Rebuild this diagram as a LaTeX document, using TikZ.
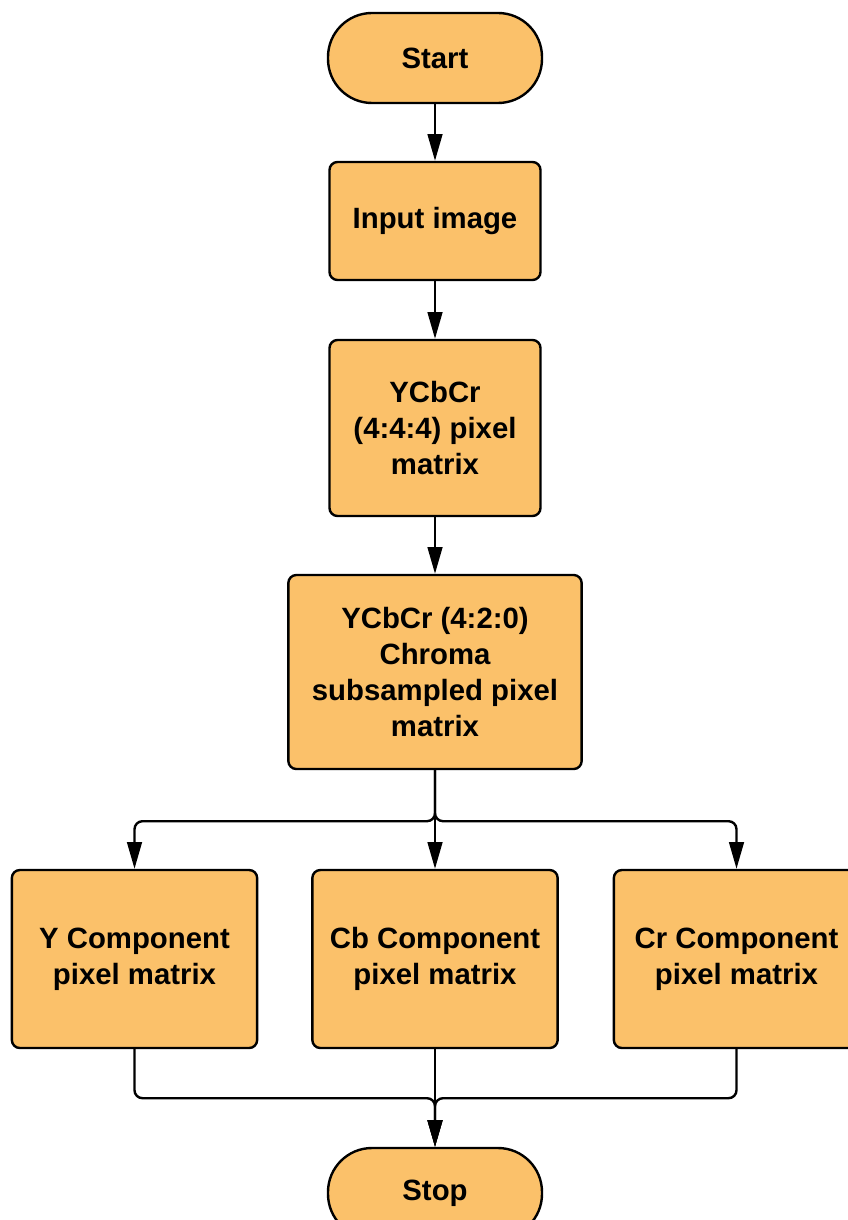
\documentclass[tikz,border=0pt]{standalone}
\usepackage{fontspec}
\setmainfont{Liberation Sans}
\usetikzlibrary{arrows.meta}
\definecolor{boxfill}{RGB}{251,193,106}
\begin{document}
\begin{tikzpicture}[x=0.75pt,y=-0.75pt,
  box/.style={draw=black, line width=1.8pt, fill=boxfill, rounded corners=6pt, align=center,
    font=\fontsize{22}{27}\selectfont\bfseries, inner sep=0pt},
  term/.style={box, rounded corners=33pt, minimum width=160.5pt, minimum height=67.5pt},
  conn/.style={line width=1.8pt, rounded corners=6pt, -{Triangle[length=20pt,width=11pt]}}]
\clip (0,0) rectangle (848,1220);
\node[term] (start) at (435,58) {Start};
\node[box, minimum width=158.25pt, minimum height=88.5pt] (input) at (435,221) {Input image};
\node[box, minimum width=158.25pt, minimum height=132pt] (y444) at (435,428) {YCbCr\\(4:4:4) pixel\\matrix};
\node[box, minimum width=220pt, minimum height=145.5pt] (y420) at (435,672) {YCbCr (4:2:0)\\Chroma\\subsampled pixel\\matrix};
\node[box, minimum width=184pt, minimum height=133.5pt] (ycomp) at (134.5,959) {Y Component\\pixel matrix};
\node[box, minimum width=184pt, minimum height=133.5pt] (cbcomp) at (435,959) {Cb Component\\pixel matrix};
\node[box, minimum width=184pt, minimum height=133.5pt] (crcomp) at (736.5,959) {Cr Component\\pixel matrix};
\node[term] (stop) at (435,1193) {Stop};
\draw[conn] (start) -- (input);
\draw[conn] (input) -- (y444);
\draw[conn] (y444) -- (y420);
\draw[conn] (y420.south) -- ++(0,51) -| (ycomp.north);
\draw[conn] (y420.south) -- (cbcomp.north);
\draw[conn] (y420.south) -- ++(0,51) -| (crcomp.north);
\draw[conn] (ycomp.south) -- ++(0,49) -| (stop.north);
\draw[conn] (crcomp.south) -- ++(0,49) -| (stop.north);
\draw[conn] (cbcomp.south) -- (stop.north);
\end{tikzpicture}
\end{document}
